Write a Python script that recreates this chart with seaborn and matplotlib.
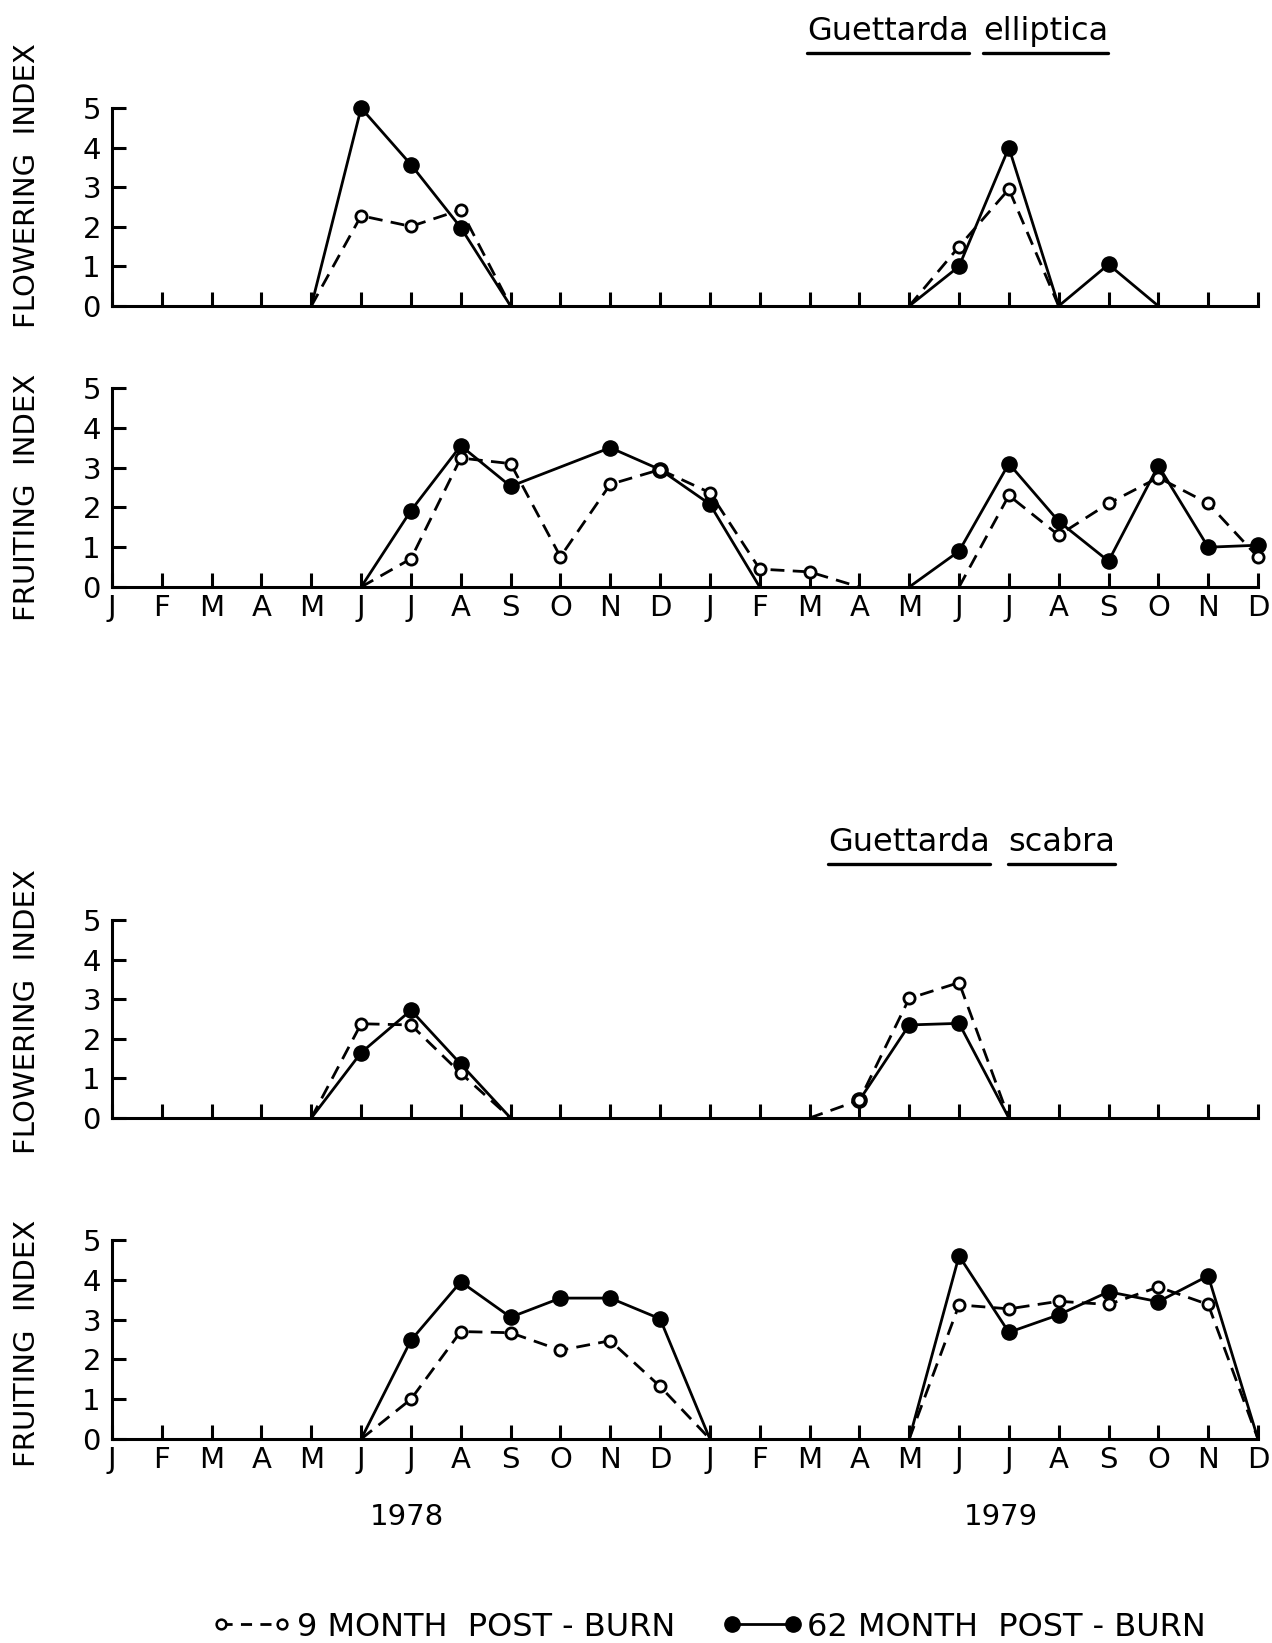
import numpy as np
import pandas as pd
import matplotlib.pyplot as plt
import seaborn as sns
from matplotlib.lines import Line2D

sns.set_style("white")
plt.rcParams["font.family"] = ["DejaVu Sans"]
plt.rcParams["text.color"] = "black"
plt.rcParams["axes.labelcolor"] = "black"

nan = np.nan
months = ["J", "F", "M", "A", "M", "J", "J", "A", "S", "O", "N", "D"] * 2
years = ["1978", "1979"]
series_labels = ["9 MONTH  POST - BURN", "62 MONTH  POST - BURN"]

# month index 0 = Jan 1978 ... 23 = Dec 1979, nan splits the line
# Guettarda elliptica
ell_flow_9_x = [4, 5, 6, 7, 8, nan, 16, 17, 18, 19]
ell_flow_9_y = [0, 2.28, 2.01, 2.43, 0, nan, 0, 1.5, 2.95, 0]
ell_flow_62_x = [4, 5, 6, 7, 8, nan, 16, 17, 18, 19, 20, 21]
ell_flow_62_y = [0, 5.0, 3.57, 1.98, 0, nan, 0, 1.0, 4.0, 0, 1.05, 0]
ell_fruit_9_x = [5, 6, 7, 8, 9, 10, 11, 12, 13, 14, 15, nan, 17, 18, 19, 20, 21, 22, 23]
ell_fruit_9_y = [0, 0.71, 3.24, 3.1, 0.76, 2.58, 2.95, 2.37, 0.45, 0.38, 0, nan, 0, 2.3, 1.3, 2.1, 2.75, 2.1, 0.75]
ell_fruit_62_x = [5, 6, 7, 8, 10, 11, 12, 13, nan, 16, 17, 18, 19, 20, 21, 22, 23]
ell_fruit_62_y = [0, 1.92, 3.55, 2.53, 3.5, 2.95, 2.08, 0, nan, 0, 0.9, 3.1, 1.65, 0.65, 3.05, 1.0, 1.05]

# Guettarda scabra
sca_flow_9_x = [4, 5, 6, 7, 8, nan, 14, 15, 16, 17, 18]
sca_flow_9_y = [0, 2.38, 2.35, 1.13, 0, nan, 0, 0.45, 3.02, 3.42, 0]
sca_flow_62_x = [4, 5, 6, 7, 8, nan, 15, 16, 17, 18]
sca_flow_62_y = [0, 1.65, 2.72, 1.36, 0, nan, 0.45, 2.35, 2.39, 0]
sca_fruit_9_x = [5, 6, 7, 8, 9, 10, 11, 12, nan, 16, 17, 18, 19, 20, 21, 22, 23]
sca_fruit_9_y = [0, 1.0, 2.7, 2.67, 2.23, 2.47, 1.32, 0, nan, 0, 3.37, 3.27, 3.46, 3.38, 3.82, 3.38, 0]
sca_fruit_62_x = [5, 6, 7, 8, 9, 10, 11, 12, nan, 16, 17, 18, 19, 20, 21, 22, 23]
sca_fruit_62_y = [0, 2.48, 3.95, 3.06, 3.54, 3.54, 3.02, 0, nan, 0, 4.6, 2.68, 3.12, 3.7, 3.45, 4.1, 0]

DASH = (0, (5, 3))
W, H = 1272, 1643


def to_frame(x, y):
    df = pd.DataFrame({"month": x, "value": y})
    df["seg"] = df["month"].isna().cumsum()
    return df.dropna()


def draw_panel(ax, x9, y9, x62, y62, ylabel, label_y, show_months):
    d62 = to_frame(x62, y62)
    d9 = to_frame(x9, y9)
    sns.lineplot(data=d62, x="month", y="value", units="seg", estimator=None, sort=False,
                 color="black", lw=2.0, ax=ax, clip_on=False, zorder=3)
    sns.lineplot(data=d9, x="month", y="value", units="seg", estimator=None, sort=False,
                 color="black", lw=2.0, linestyle=DASH, ax=ax, clip_on=False, zorder=3)
    sns.scatterplot(data=d62[d62["value"] > 0], x="month", y="value", color="black",
                    edgecolor="black", s=120, linewidth=1, ax=ax, clip_on=False, zorder=4)
    sns.scatterplot(data=d9[d9["value"] > 0], x="month", y="value", color="white",
                    edgecolor="black", s=65, linewidth=2, ax=ax, clip_on=False, zorder=5)

    ax.set_xlim(0, 23)
    ax.set_ylim(0, 5)
    ax.set_yticks(range(6))
    ax.set_xticks(range(24))
    ax.set_xticklabels(months if show_months else [])
    ax.set_xticks([12, 23], minor=True)
    ax.tick_params(axis="both", which="major", direction="in", length=10, width=2.2,
                   color="black", labelsize=21, labelcolor="black",
                   bottom=True, left=True)
    ax.tick_params(axis="y", pad=8)
    ax.tick_params(axis="x", pad=5)
    ax.tick_params(axis="x", which="minor", direction="in", length=14, width=2.2,
                   color="black", bottom=True)
    ax.set_xlabel("")
    ax.set_ylabel(ylabel, fontsize=21, color="black")
    ax.yaxis.set_label_coords(-0.062, label_y)
    sns.despine(ax=ax)
    for s in ["left", "bottom"]:
        ax.spines[s].set_linewidth(2.2)
        ax.spines[s].set_color("black")


fig = plt.figure(figsize=(W / 100, H / 100), dpi=100)
left, width = 112 / W, 1146 / W


def add_ax(top, bottom):
    return fig.add_axes([left, (H - bottom) / H, width, (bottom - top) / H])


ax1 = add_ax(108, 306)
ax2 = add_ax(388, 587)
ax3 = add_ax(920, 1118)
ax4 = add_ax(1240, 1439)

draw_panel(ax1, ell_flow_9_x, ell_flow_9_y, ell_flow_62_x, ell_flow_62_y, "FLOWERING  INDEX", 0.61, False)
draw_panel(ax2, ell_fruit_9_x, ell_fruit_9_y, ell_fruit_62_x, ell_fruit_62_y, "FRUITING  INDEX", 0.45, True)
draw_panel(ax3, sca_flow_9_x, sca_flow_9_y, sca_flow_62_x, sca_flow_62_y, "FLOWERING  INDEX", 0.54, False)
draw_panel(ax4, sca_fruit_9_x, sca_fruit_9_y, sca_fruit_62_x, sca_fruit_62_y, "FRUITING  INDEX", 0.48, True)

# species titles, each word underlined
titles = [("Guettarda", 807, 40), ("elliptica", 983, 40), ("Guettarda", 828, 851), ("scabra", 1008, 851)]
title_texts = []
for word, px, py in titles:
    t = fig.text(px / W, (H - py) / H, word, fontsize=23, ha="left", va="baseline")
    title_texts.append((t, py))

# years
fig.text(407 / W, (H - 1517) / H, years[0], fontsize=21, ha="center", va="center")
fig.text(1001 / W, (H - 1517) / H, years[1], fontsize=21, ha="center", va="center")

# legend
handles = [
    Line2D([], [], color="black", lw=2.0, linestyle=(0, (4, 3)), marker="o", ms=7,
           mfc="white", mec="black", mew=1.8),
    Line2D([], [], color="black", lw=2.0, marker="o", ms=11, mfc="black", mec="black"),
]
fig.legend(handles, series_labels, ncol=2, numpoints=2, frameon=False, fontsize=23,
           loc="center", bbox_to_anchor=(709 / W, (H - 1627) / H),
           handlelength=2.5, handletextpad=0.15, columnspacing=1.5, borderaxespad=0)

fig.canvas.draw()
renderer = fig.canvas.get_renderer()
for t, py in title_texts:
    bb = t.get_window_extent(renderer)
    yy = (H - py - 13) / H
    fig.add_artist(Line2D([bb.x0 / W, bb.x1 / W], [yy, yy], transform=fig.transFigure,
                          color="black", lw=2.4))

fig.savefig("out.png", dpi=100)
